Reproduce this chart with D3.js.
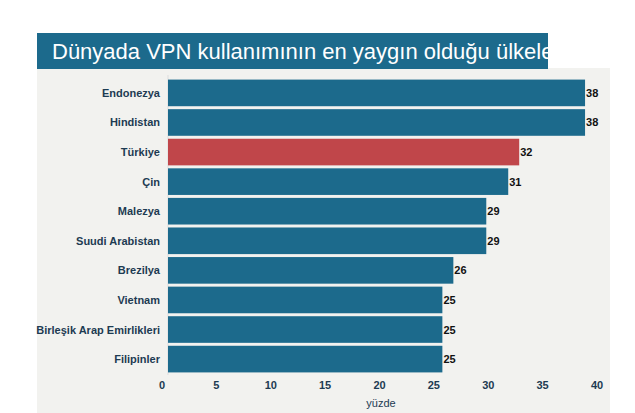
<!DOCTYPE html>
<html lang="tr">
<head>
<meta charset="UTF-8" />
<script src="https://d3js.org/d3.v7.min.js"></script>
<style>
  body { margin: 0; background: #fff; }
  svg { display: block; font-family: Arial, "Liberation Sans", sans-serif; }
</style>
</head>
<body>
<svg width="635" height="413"></svg>
<script>
  const countries = ["Endonezya", "Hindistan", "Türkiye", "Çin", "Malezya", "Suudi Arabistan",
    "Brezilya", "Vietnam", "Birleşik Arap Emirlikleri", "Filipinler"];
  const values = [38, 38, 32, 31, 29, 29, 26, 25, 25, 25];
  const ticks = [0, 5, 10, 15, 20, 25, 30, 35, 40];
  const highlight = "Türkiye";

  const svg = d3.select("svg");

  // panel + title
  svg.append("rect").attr("x", 37).attr("y", 68).attr("width", 573).attr("height", 345).attr("fill", "#f2f2ef");
  svg.append("rect").attr("x", 37).attr("y", 33).attr("width", 511).attr("height", 36).attr("fill", "#1c6a8c");
  svg.append("text").attr("x", 52).attr("y", 59).attr("fill", "#fff")
    .attr("font-size", 22).text("Dünyada VPN kullanımının en yaygın olduğu ülkeler");

  const x = d3.scaleLinear().domain([0, 40]).range([168, 607]);
  const y = d3.scaleBand().domain(countries).range([79, 373]).paddingInner(0.1).paddingOuter(0.02);

  svg.append("line").attr("x1", 168).attr("x2", 168).attr("y1", 75).attr("y2", 375)
    .attr("stroke", "#ddd");

  svg.selectAll("rect.bar").data(countries).enter().append("rect")
    .attr("class", "bar")
    .attr("x", x(0))
    .attr("y", d => y(d))
    .attr("width", (d, i) => x(values[i]) - x(0))
    .attr("height", y.bandwidth())
    .attr("fill", d => d === highlight ? "#c0464a" : "#1c6a8c");

  svg.selectAll("text.val").data(countries).enter().append("text")
    .attr("x", (d, i) => x(values[i]) + 1)
    .attr("y", d => y(d) + y.bandwidth() / 2 + 4)
    .attr("font-size", 11).attr("font-weight", "bold").attr("fill", "#111")
    .text((d, i) => values[i]);

  svg.selectAll("text.cat").data(countries).enter().append("text")
    .attr("x", 160)
    .attr("y", d => y(d) + y.bandwidth() / 2 + 4)
    .attr("text-anchor", "end")
    .attr("font-size", 11).attr("font-weight", "bold").attr("fill", "#1d3b52")
    .text(d => d);

  svg.selectAll("text.tick").data(ticks).enter().append("text")
    .attr("x", d => x(d) - 6 - d / 10)
    .attr("y", 389)
    .attr("text-anchor", "middle")
    .attr("font-size", 11).attr("font-weight", "bold").attr("fill", "#1d3b52")
    .text(d => d);

  svg.append("text").attr("x", 381).attr("y", 407).attr("text-anchor", "middle")
    .attr("font-size", 11).attr("fill", "#1d3b52").text("yüzde");
</script>
</body>
</html>
